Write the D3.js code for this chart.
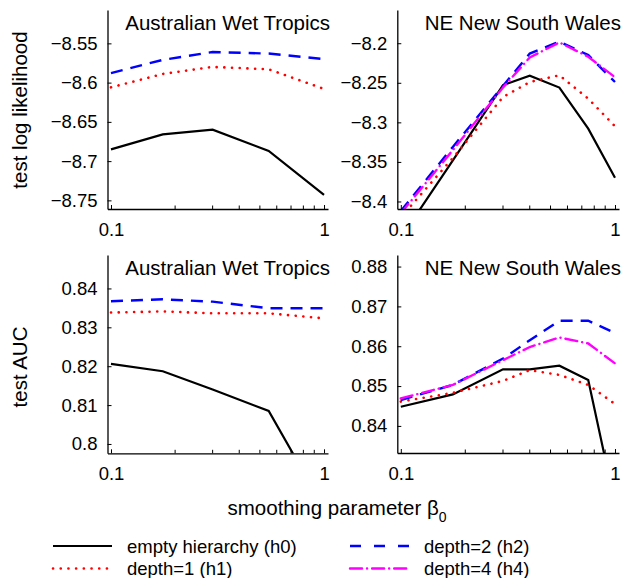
<!DOCTYPE html>
<html>
<head>
<meta charset="utf-8">
<script src="https://cdn.jsdelivr.net/npm/d3@7"></script>
<style>
  body { margin: 0; background: #fff; }
  text { font-family: "Liberation Sans", Arial, sans-serif; fill: #000; }
</style>
</head>
<body>
<svg id="chart" width="624" height="578"></svg>
<script>
// x values (smoothing parameter beta0)
const betaAwt = [0.1, 0.175, 0.3, 0.55, 1];
const betaNsw = [0.1, 0.175, 0.3, 0.4, 0.55, 0.75, 1];

const seriesNames = ['empty hierarchy (h0)', 'depth=1 (h1)', 'depth=2 (h2)', 'depth=4 (h4)'];
const regionNames = ['Australian Wet Tropics', 'NE New South Wales'];

// test log likelihood
const llAwtH0 = [-8.685, -8.666, -8.660, -8.687, -8.743];
const llAwtH1 = [-8.606, -8.589, -8.580, -8.583, -8.608];
const llAwtH2 = [-8.588, -8.571, -8.561, -8.563, -8.570];

const llNswH0 = [-8.446, -8.348, -8.253, -8.241, -8.256, -8.308, -8.370];
const llNswH1 = [-8.420, -8.345, -8.268, -8.249, -8.2405, -8.270, -8.305];
const llNswH2 = [-8.412, -8.331, -8.254, -8.213, -8.198, -8.215, -8.249];
const llNswH4 = [-8.415, -8.335, -8.256, -8.218, -8.199, -8.217, -8.243];

// test AUC
const aucAwtH0 = [0.8206, 0.8187, 0.8140, 0.8085, 0.7835];
const aucAwtH1 = [0.8338, 0.8341, 0.8336, 0.8336, 0.8323];
const aucAwtH2 = [0.8367, 0.8372, 0.8366, 0.8349, 0.8349];

const aucNswH0 = [0.8448, 0.8479, 0.8542, 0.8542, 0.8551, 0.8515, 0.8204];
const aucNswH1 = [0.8461, 0.8483, 0.8513, 0.8540, 0.8528, 0.8503, 0.8455];
const aucNswH2 = [0.8465, 0.8503, 0.8569, 0.8615, 0.8664, 0.8664, 0.8633];
const aucNswH4 = [0.8469, 0.8503, 0.8565, 0.8598, 0.8622, 0.8607, 0.8557];

// tick values
const xTicks = [0.1, 1];
const xMinorTicks = [0.2, 0.3, 0.4, 0.5, 0.6, 0.7, 0.8, 0.9];
const llAwtTicks = [-8.75, -8.7, -8.65, -8.6, -8.55];
const llNswTicks = [-8.4, -8.35, -8.3, -8.25, -8.2];
const aucAwtTicks = [0.8, 0.81, 0.82, 0.83, 0.84];
const aucNswTicks = [0.84, 0.85, 0.86, 0.87, 0.88];

// line styles per series
const styles = [
    { color: '#000000', width: 2.2, dash: null },
    { color: '#ff0000', width: 2.6, dash: '0.1,7.6', cap: 'round' },
    { color: '#0000ff', width: 2.4, dash: '12,8' },
    { color: '#ff00ff', width: 2.4, dash: '12,5,0.1,5', cap: 'round' }
];

const svg = d3.select('#chart');

/* ****************************************************************
 *   Panels
 * **************************************************************** */
const panels = [
    { id: 'p0', left: 107.5, right: 328, top: 10,  bottom: 209,
      domain: [-8.761, -8.5075], ticks: llAwtTicks, title: regionNames[0],
      x: betaAwt, series: [llAwtH0, llAwtH1, llAwtH2] },
    { id: 'p1', left: 397.3, right: 619, top: 10,  bottom: 209,
      domain: [-8.4095, -8.158], ticks: llNswTicks, title: regionNames[1],
      x: betaNsw, series: [llNswH0, llNswH1, llNswH2, llNswH4] },
    { id: 'p2', left: 107.5, right: 328, top: 255, bottom: 453.3,
      domain: [0.7976, 0.8486], ticks: aucAwtTicks, title: regionNames[0],
      x: betaAwt, series: [aucAwtH0, aucAwtH1, aucAwtH2] },
    { id: 'p3', left: 397.3, right: 619, top: 255, bottom: 453,
      domain: [0.8332, 0.8829], ticks: aucNswTicks, title: regionNames[1],
      x: betaNsw, series: [aucNswH0, aucNswH1, aucNswH2, aucNswH4] }
];

const fmt = d3.format('~g');

panels.forEach((p) => {
    let x = d3.scaleLog().domain([0.0963, 1.044]).range([p.left, p.right]);
    let y = d3.scaleLinear().domain(p.domain).range([p.bottom, p.top]);

    svg.append('clipPath').attr('id', 'clip-' + p.id)
        .append('rect')
        .attr('x', p.left).attr('y', p.top)
        .attr('width', p.right - p.left).attr('height', p.bottom - p.top);

    let g = svg.append('g').attr('class', 'panel');

    // lines
    let line = d3.line()
        .x((d) => x(d[0]))
        .y((d) => y(d[1]));

    p.series.forEach((vals, i) => {
        let st = styles[i];
        g.append('path')
            .attr('clip-path', 'url(#clip-' + p.id + ')')
            .attr('d', line(vals.map((v, j) => [p.x[j], v])))
            .attr('fill', 'none')
            .attr('stroke', st.color)
            .attr('stroke-width', st.width)
            .attr('stroke-linecap', st.cap || 'butt')
            .attr('stroke-dasharray', st.dash);
    });

    // x axis
    let xAxis = d3.axisBottom(x)
        .tickValues(xTicks)
        .tickFormat(fmt)
        .tickSizeInner(-4)
        .tickSizeOuter(0)
        .tickPadding(14);
    let gx = g.append('g')
        .attr('transform', 'translate(0,' + p.bottom + ')')
        .call(xAxis);
    gx.selectAll('.minor')
        .data(xMinorTicks)
        .enter()
        .append('line')
        .attr('class', 'minor')
        .attr('x1', (d) => x(d)).attr('x2', (d) => x(d))
        .attr('y1', 0).attr('y2', -3.5)
        .attr('stroke', '#000');

    // y axis
    let yAxis = d3.axisLeft(y)
        .tickValues(p.ticks)
        .tickFormat(fmt)
        .tickSizeInner(-4)
        .tickSizeOuter(0)
        .tickPadding(10);
    let gy = g.append('g')
        .attr('transform', 'translate(' + p.left + ',0)')
        .call(yAxis);

    [gx, gy].forEach((a) => {
        a.select('.domain').attr('stroke', '#000').attr('stroke-width', 1.3);
        a.selectAll('.tick line').attr('stroke', '#000');
        a.selectAll('text')
            .style('font-family', '"Liberation Sans", Arial, sans-serif')
            .style('font-size', '18.5px')
            .attr('fill', '#000');
    });

    // title
    g.append('text')
        .attr('x', p.right + 2)
        .attr('y', p.top + 20)
        .attr('text-anchor', 'end')
        .style('font-size', '20.5px')
        .text(p.title);
});

/* ****************************************************************
 *   Axis labels
 * **************************************************************** */
svg.append('text')
    .attr('transform', 'translate(27,110) rotate(-90)')
    .attr('text-anchor', 'middle')
    .style('font-size', '20.5px')
    .text('test log likelihood');

svg.append('text')
    .attr('transform', 'translate(27,367) rotate(-90)')
    .attr('text-anchor', 'middle')
    .style('font-size', '20.5px')
    .text('test AUC');

let xl = svg.append('text')
    .attr('x', 337)
    .attr('y', 515)
    .attr('text-anchor', 'middle')
    .style('font-size', '20.5px');
xl.append('tspan').text('smoothing parameter \u03b2');
xl.append('tspan').attr('dy', 7).style('font-size', '14px').text('0');

/* ****************************************************************
 *   Legend
 * **************************************************************** */
const legendPos = [
    { x: 53, y: 546 }, { x: 53, y: 568.5 },
    { x: 350, y: 546 }, { x: 350, y: 568.5 }
];
seriesNames.forEach((name, i) => {
    let st = styles[i];
    let lp = legendPos[i];
    svg.append('line')
        .attr('x1', lp.x).attr('x2', lp.x + 59)
        .attr('y1', lp.y).attr('y2', lp.y)
        .attr('stroke', st.color)
        .attr('stroke-width', st.width)
        .attr('stroke-linecap', st.cap || 'butt')
        .attr('stroke-dasharray', i == 2 ? '11,13' : st.dash);
    svg.append('text')
        .attr('x', lp.x + 74)
        .attr('y', lp.y + 6.5)
        .style('font-size', '18.5px')
        .text(name);
});
</script>
</body>
</html>
